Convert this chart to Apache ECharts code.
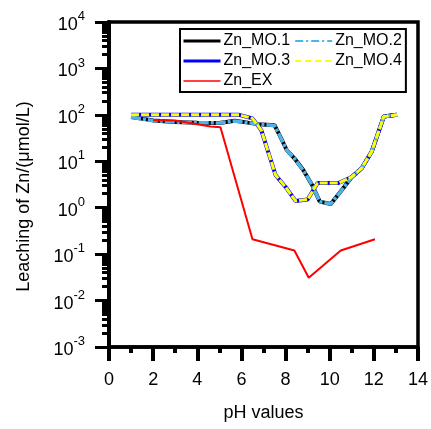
<!DOCTYPE html>
<html>
<head>
<meta charset="utf-8">
<script src="https://cdn.jsdelivr.net/npm/echarts@6/dist/echarts.min.js"></script>
<style>
  html, body { margin: 0; padding: 0; background: #fff; }
  #chart { width: 431px; height: 429px; }
</style>
</head>
<body>
<div id="chart"></div>
<script>
// pH sampling points and Zn leaching concentrations (µmol/L)
const phMO12 = [1, 2, 3, 4, 5, 5.7, 6.3, 6.8, 7.5, 7.8, 8.05, 8.4, 8.8, 9.2, 9.55, 10.05, 10.55, 11.0, 11.45, 11.9, 12.45, 13.05];
const znMO1 = [90, 76, 70, 68, 67, 75, 68, 63, 60, 31, 17.5, 11.6, 6.5, 3.1, 1.35, 1.2, 2.4, 4.6, 7.1, 16, 92, 100];
const znMO2 = [89, 75, 70, 68, 67, 74, 68, 63, 59, 31, 17.5, 11.5, 6.4, 3.1, 1.35, 1.2, 2.4, 4.6, 7.1, 16, 92, 100];

const phMO34 = [1, 2, 3, 4, 5, 5.9, 6.5, 6.9, 7.25, 7.55, 8.0, 8.45, 9.0, 9.45, 10.4, 11.0, 11.45, 11.9, 12.45, 13.05];
const znMO3 = [100, 100, 100, 100, 100, 100, 84, 47, 14, 5, 2.8, 1.4, 1.5, 3.4, 3.4, 4.6, 7.1, 16, 92, 100];
const znMO4 = [101, 101, 101, 101, 101, 100, 84, 47, 14, 5, 2.8, 1.4, 1.5, 3.4, 3.4, 4.6, 7.1, 16, 92, 100];

const phEX = [2, 3, 4.6, 5.05, 6.5, 8.4, 9.05, 10.5, 12.05];
const znEX = [77, 76, 56, 54, 0.21, 0.12, 0.031, 0.12, 0.21];

const seriesNames = ['Zn_MO.1', 'Zn_MO.2', 'Zn_MO.3', 'Zn_MO.4', 'Zn_EX'];

const pairs = (xs, ys) => xs.map((x, i) => [x, ys[i]]);

// minor tick positions of the log scale (2..9 × 10^n), expressed as exponents
const minorTickExponents = [];
for (let e = -3; e < 4; e++) {
  for (let k = 2; k <= 9; k++) minorTickExponents.push(e + Math.log10(k));
}

const FONT = 'Liberation Sans, Arial, sans-serif';

const chart = echarts.init(document.getElementById('chart'), null, { renderer: 'canvas' });

chart.setOption({
  animation: false,
  backgroundColor: '#fff',
  grid: {
    left: 109, right: 12, top: 22, bottom: 82,
    show: true, borderColor: '#000', borderWidth: 3.5,
    backgroundColor: 'transparent'
  },
  legend: {
    left: 180, top: 29,
    orient: 'horizontal',
    width: 226,
    itemWidth: 37, itemHeight: 14, itemGap: 4,
    padding: [4, 4, 3, 2],
    borderColor: '#000', borderWidth: 2,
    backgroundColor: '#fff',
    itemStyle: { color: 'transparent', borderWidth: 0, opacity: 0 },
    textStyle: { fontFamily: FONT, fontSize: 16, lineHeight: 16, color: '#000', padding: [0, 0, 0, -2] },
    data: [
      { name: seriesNames[0], lineStyle: { width: 3 } },
      { name: seriesNames[1], lineStyle: { width: 2, type: [8, 3, 2, 3] } },
      { name: seriesNames[2], lineStyle: { width: 3 } },
      { name: seriesNames[3], lineStyle: { width: 2, type: [6, 4] } },
      { name: seriesNames[4], lineStyle: { width: 1.5 } }
    ]
  },
  xAxis: {
    type: 'value',
    min: 0, max: 14, interval: 2,
    name: 'pH values',
    nameLocation: 'middle',
    nameGap: 57,
    nameTextStyle: { fontFamily: FONT, fontSize: 18, color: '#000' },
    axisLine: { show: true, onZero: false, lineStyle: { color: '#000', width: 3.5 } },
    axisTick: { show: true, inside: false, length: 14, lineStyle: { color: '#000', width: 4 } },
    minorTick: { show: true, splitNumber: 2, length: 6, lineStyle: { color: '#000', width: 4 } },
    axisLabel: { fontFamily: FONT, fontSize: 18, color: '#000', margin: 24 },
    splitLine: { show: false },
    minorSplitLine: { show: false }
  },
  yAxis: [
    {
      type: 'log',
      logBase: 10,
      min: 0.001, max: 10000, interval: 1,
      name: 'Leaching of Zn/(\u03bcmol/L)',
      nameLocation: 'middle',
      nameRotate: 90,
      nameGap: 76,
      nameTextStyle: { fontFamily: FONT, fontSize: 18, color: '#000', padding: [0, 24, 0, 0] },
      axisLine: { show: true, onZero: false, lineStyle: { color: '#000', width: 4 } },
      axisTick: { show: true, inside: false, length: 14, lineStyle: { color: '#000', width: 3 } },
      axisLabel: {
        margin: 24,
        formatter: v => '{b|10}{s|' + Math.round(Math.log10(v)) + '}',
        rich: {
          b: { fontFamily: FONT, fontSize: 18, color: '#000', lineHeight: 24, verticalAlign: 'bottom' },
          s: { fontFamily: FONT, fontSize: 13, color: '#000', lineHeight: 24, verticalAlign: 'top' }
        }
      },
      splitLine: { show: false }
    },
    {
      // exponent scale carrying the minor ticks of the log axis
      type: 'value',
      min: -3, max: 4,
      position: 'left',
      offset: 0,
      axisLine: { show: false, onZero: false },
      axisTick: { show: true, inside: false, length: 7, customValues: minorTickExponents, lineStyle: { color: '#000', width: 3 } },
      axisLabel: { show: false },
      splitLine: { show: false }
    }
  ],
  series: [
    {
      name: seriesNames[0], type: 'line', symbol: 'none', z: 2,
      data: pairs(phMO12, znMO1),
      lineStyle: { color: '#000', width: 4 }, itemStyle: { color: '#000' }
    },
    {
      name: seriesNames[1], type: 'line', symbol: 'none', z: 3,
      data: pairs(phMO12, znMO2),
      lineStyle: { color: '#4fb3e8', width: 3.5, type: [10, 2, 3, 2] }, itemStyle: { color: '#4fb3e8' }
    },
    {
      name: seriesNames[2], type: 'line', symbol: 'none', z: 2,
      data: pairs(phMO34, znMO3),
      lineStyle: { color: '#0000ff', width: 4 }, itemStyle: { color: '#0000ff' }
    },
    {
      name: seriesNames[3], type: 'line', symbol: 'none', z: 3,
      data: pairs(phMO34, znMO4),
      lineStyle: { color: '#ffff00', width: 3, type: [8, 2] }, itemStyle: { color: '#ffff00' }
    },
    {
      name: seriesNames[4], type: 'line', symbol: 'none', z: 4,
      data: pairs(phEX, znEX),
      lineStyle: { color: '#ff0000', width: 2 }, itemStyle: { color: '#ff0000' }
    }
  ]
});
</script>
</body>
</html>
